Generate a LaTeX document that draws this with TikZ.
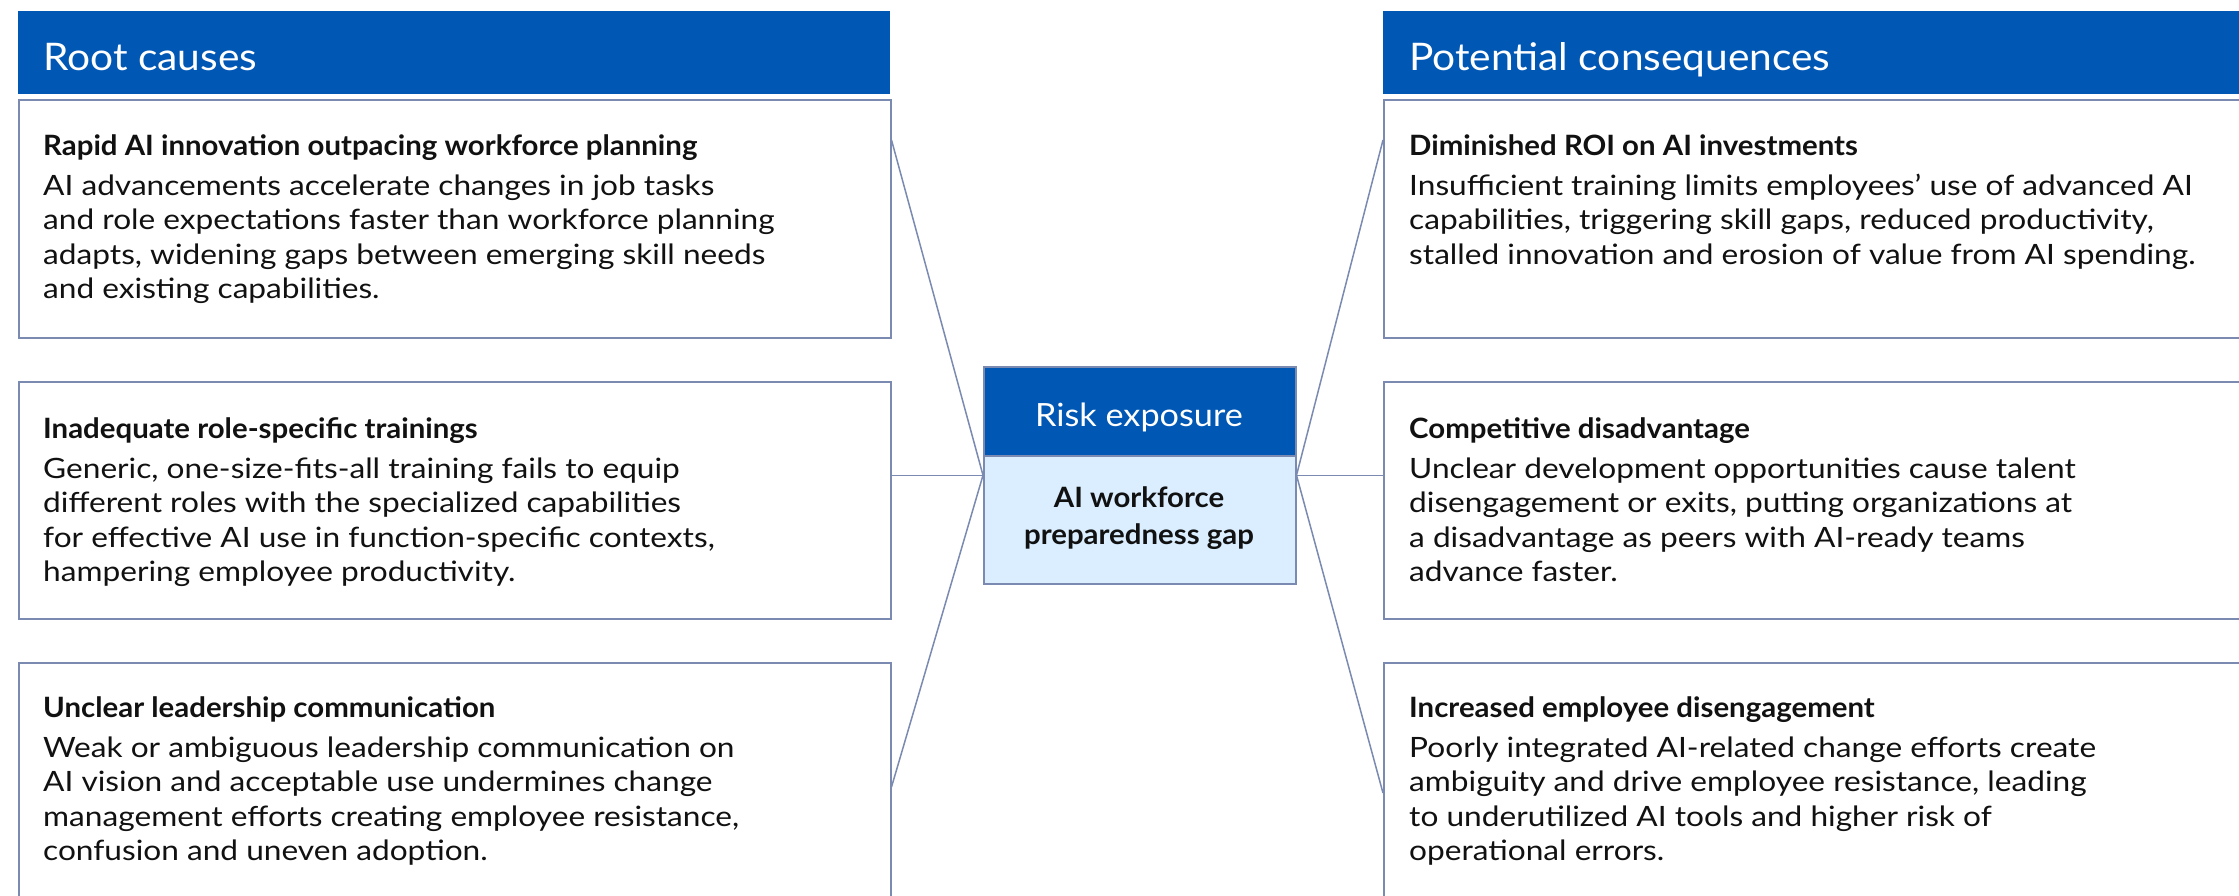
\documentclass[tikz,border=0pt]{standalone}
\usepackage{fontspec}
\setmainfont{Lato}
\newfontfamily\bodyfam[FakeStretch=1.13]{Lato}
\newfontfamily\titlefam[FakeStretch=1.05]{Lato}
\newfontfamily\headfam[FakeStretch=1.07]{Lato}
\usetikzlibrary{calc}
\definecolor{hdrblue}{RGB}{0,87,180}
\definecolor{lightfill}{RGB}{218,238,255}
\definecolor{edgec}{RGB}{122,138,176}
\definecolor{inkc}{RGB}{17,17,17}
\newcommand{\bodyline}[1]{\hbox{#1}}
\newcommand{\cardtext}[2]{\vtop{\hbox{\titlefam\bfseries #1}\vskip5.5pt #2}}
\begin{document}
\begin{tikzpicture}[x=1pt,y=-1pt,
  hdr/.style={fill=hdrblue, draw=none, inner sep=0pt, anchor=north west},
  cbox/.style={draw=edgec, line width=1.5pt, fill=white, inner sep=0pt, anchor=north west},
  link/.style={draw=edgec, line width=1.5pt},
  htxt/.style={text=white, font=\headfam\fontsize{38}{44}\selectfont, inner sep=0pt, anchor=base west},
  btxt/.style={text=inkc, font=\bodyfam\fontsize{28}{34.5}\selectfont, inner sep=0pt, anchor=base west},
  ctitle/.style={text=white, font=\headfam\fontsize{32}{38}\selectfont, inner sep=0pt, anchor=base},
  cbody/.style={text=inkc, font=\titlefam\bfseries\fontsize{28}{37}\selectfont, inner sep=0pt, anchor=base},
]
\useasboundingbox (0,0) rectangle (2239,895);
\clip (0,0) rectangle (2239,895);
\fill[white] (0,0) rectangle (2239,895);

% headers
\node[hdr, minimum width=872pt, minimum height=83pt] (hl) at (18,11) {};
\node[hdr, minimum width=880pt, minimum height=83pt] (hr) at (1383,11) {};
\node[htxt] (hlt) at (43,70) {Root causes};
\node[htxt] (hrt) at (1409,70) {Potential consequences};

% left boxes
\node[cbox, minimum width=872pt, minimum height=238pt] (L1) at (18,99) {};
\node[cbox, minimum width=872pt, minimum height=237pt] (L2) at (18,381) {};
\node[cbox, minimum width=872pt, minimum height=260pt] (L3) at (18,662) {};
% right boxes
\node[cbox, minimum width=900pt, minimum height=238pt] (R1) at (1383,99) {};
\node[cbox, minimum width=900pt, minimum height=237pt] (R2) at (1383,381) {};
\node[cbox, minimum width=900pt, minimum height=260pt] (R3) at (1383,662) {};

% centre
\node[draw=edgec, line width=1.5pt, fill=lightfill, inner sep=0pt, anchor=north west,
      minimum width=312pt, minimum height=217pt] (rc) at (983,366) {};
\node[hdr, draw=edgec, line width=1.5pt, minimum width=312pt, minimum height=89pt] (rh) at (983,366) {};
\node[ctitle] (rht) at (1139,426.5) {Risk exposure};
\node[cbody] (rb1) at (1139,507) {AI workforce};
\node[cbody] (rb2) at (1139,544) {preparedness gap};

% connectors
\coordinate (l1p) at ($(L1.north east)+(0,41)$);
\coordinate (l3p) at ($(L3.north east)+(0,125)$);
\coordinate (r1p) at ($(R1.north west)+(0,41)$);
\coordinate (r3p) at ($(R3.north west)+(0,131)$);
\draw[link] (l1p) -- (rc.west);
\draw[link] (L2.east |- rc.west) -- (rc.west);
\draw[link] (l3p) -- (rc.west);
\draw[link] (rc.east) -- (r1p);
\draw[link] (rc.east) -- (R2.west |- rc.east);
\draw[link] (rc.east) -- (r3p);

% texts
\node[btxt] (t1) at (43,155) {\cardtext{Rapid AI innovation outpacing workforce planning}{%
  \bodyline{AI advancements accelerate changes in job tasks}%
  \bodyline{and role expectations faster than workforce planning}%
  \bodyline{adapts, widening gaps between emerging skill needs}%
  \bodyline{and existing capabilities.}}};
\node[btxt] (t2) at (43,438) {\cardtext{Inadequate role-specific trainings}{%
  \bodyline{Generic, one-size-fits-all training fails to equip}%
  \bodyline{different roles with the specialized capabilities}%
  \bodyline{for effective AI use in function-specific contexts,}%
  \bodyline{hampering employee productivity.}}};
\node[btxt] (t3) at (43,717) {\cardtext{Unclear leadership communication}{%
  \bodyline{Weak or ambiguous leadership communication on}%
  \bodyline{AI vision and acceptable use undermines change}%
  \bodyline{management efforts creating employee resistance,}%
  \bodyline{confusion and uneven adoption.}}};
\node[btxt] (t4) at (1409,155) {\cardtext{Diminished ROI on AI investments}{%
  \bodyline{Insufficient training limits employees’ use of advanced AI}%
  \bodyline{capabilities, triggering skill gaps, reduced productivity,}%
  \bodyline{stalled innovation and erosion of value from AI spending.}}};
\node[btxt] (t5) at (1409,438) {\cardtext{Competitive disadvantage}{%
  \bodyline{Unclear development opportunities cause talent}%
  \bodyline{disengagement or exits, putting organizations at}%
  \bodyline{a disadvantage as peers with AI-ready teams}%
  \bodyline{advance faster.}}};
\node[btxt] (t6) at (1409,717) {\cardtext{Increased employee disengagement}{%
  \bodyline{Poorly integrated AI-related change efforts create}%
  \bodyline{ambiguity and drive employee resistance, leading}%
  \bodyline{to underutilized AI tools and higher risk of}%
  \bodyline{operational errors.}}};
\end{tikzpicture}
\end{document}
